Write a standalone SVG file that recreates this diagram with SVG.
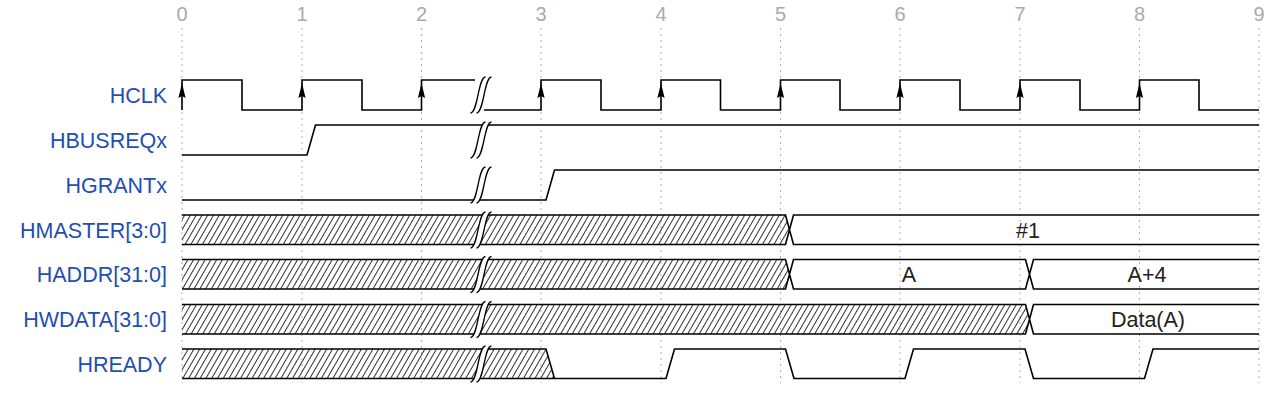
<svg xmlns="http://www.w3.org/2000/svg" width="1284" height="401" viewBox="0 0 1284 401">
<style>
.lbl{font-family:"Liberation Sans",Arial,sans-serif;font-size:21.5px;fill:#1f4eb4;text-anchor:end}
.num{font-family:"Liberation Sans",Arial,sans-serif;font-size:20px;fill:#aaaaaa;text-anchor:middle}
.dat{font-family:"Liberation Sans",Arial,sans-serif;font-size:21.5px;fill:#222;text-anchor:middle}
.grid{stroke:#b0b0b0;stroke-width:1;stroke-dasharray:2 4;fill:none}
.w{fill:none;stroke:#000;stroke-width:1.6;stroke-linejoin:miter}
.hx{fill:url(#hatch);stroke:none}
.gw{fill:#fff;stroke:none}
.gc{fill:none;stroke:#000;stroke-width:1.3}
</style>
<defs>
<pattern id="hatch" patternUnits="userSpaceOnUse" width="5" height="10" patternTransform="rotate(30)">
<line x1="2.5" y1="-1" x2="2.5" y2="11" stroke="#333" stroke-width="1"/>
</pattern>
<g id="gap">
<path class="gw" d="M10.5,-3 L4.5,-3 C-3,-3 -3,33 -10.5,33 L-4.5,33 C3,33 3,-3 10.5,-3 Z"/>
<path class="gc" d="M-10.5,33 C-3,33 -3,-3 4.5,-3"/>
<path class="gc" d="M-4.5,33 C3,33 3,-3 10.5,-3"/>
</g>
<path id="arr" d="M0,83 L3.6,98 L0,96 L-3.6,98 Z" fill="#000"/>
</defs>
<rect width="1284" height="401" fill="#fff"/>
<g id="grid">
<path class="grid" d="M182,28V383M302,28V383M421.5,28V383M541,28V383M661,28V383M780.5,28V383M900,28V383M1020,28V383M1139.5,28V383M1259,28V383"/>
<text class="num" x="182" y="21">0</text>
<text class="num" x="302" y="21">1</text>
<text class="num" x="421.5" y="21">2</text>
<text class="num" x="541" y="21">3</text>
<text class="num" x="661" y="21">4</text>
<text class="num" x="780.5" y="21">5</text>
<text class="num" x="900" y="21">6</text>
<text class="num" x="1020" y="21">7</text>
<text class="num" x="1139.5" y="21">8</text>
<text class="num" x="1259" y="21">9</text>
</g>
<g id="connectors"></g>
<g id="HCLK">
<text class="lbl" x="167" y="103">HCLK</text>
<path class="w" d="M182,110V80H242V110H302V80H362V110H421.5V80H475M484,110H541V80H601V110H661V80H720.5V110H780.5V80H840V110H900V80H960V110H1020V80H1080V110H1139.5V80H1199V110H1259"/>
<use href="#gap" x="481" y="80"/>
<use href="#arr" x="182"/><use href="#arr" x="302"/><use href="#arr" x="421.5"/><use href="#arr" x="541"/><use href="#arr" x="661"/><use href="#arr" x="780.5"/><use href="#arr" x="900"/><use href="#arr" x="1020"/><use href="#arr" x="1139.5"/>
</g>
<g id="HBUSREQx">
<text class="lbl" x="167" y="148">HBUSREQx</text>
<path class="w" d="M182,155H307L315.5,125H1259"/>
<use href="#gap" x="481" y="125"/>
</g>
<g id="HGRANTx">
<text class="lbl" x="167" y="193">HGRANTx</text>
<path class="w" d="M182,200H546L554.5,170H1259"/>
<use href="#gap" x="481" y="170"/>
</g>
<g id="HMASTER">
<text class="lbl" x="167" y="237.5">HMASTER[3:0]</text>
<path class="hx" d="M182,215H785.5L789.5,229.75L785.5,244.5H182Z"/>
<path class="w" d="M182,215H785.5L793.5,244.5H1259M182,244.5H785.5L793.5,215H1259"/>
<use href="#gap" x="481" y="215"/>
<text class="dat" x="1028" y="237.5">#1</text>
</g>
<g id="HADDR">
<text class="lbl" x="167" y="282">HADDR[31:0]</text>
<path class="hx" d="M182,259.5H785.5L789.5,274.25L785.5,289H182Z"/>
<path class="w" d="M182,259.5H785.5L793.5,289H1025.5L1033.5,259.5H1259M182,289H785.5L793.5,259.5H1025.5L1033.5,289H1259"/>
<use href="#gap" x="481" y="259.5"/>
<text class="dat" x="909" y="282">A</text>
<text class="dat" x="1147" y="282">A+4</text>
</g>
<g id="HWDATA">
<text class="lbl" x="167" y="327">HWDATA[31:0]</text>
<path class="hx" d="M182,304.5H1025.5L1029.5,319.25L1025.5,334H182Z"/>
<path class="w" d="M182,304.5H1025.5L1033.5,334H1259M182,334H1025.5L1033.5,304.5H1259"/>
<use href="#gap" x="481" y="304.5"/>
<text class="dat" x="1148" y="327">Data(A)</text>
</g>
<g id="HREADY">
<text class="lbl" x="167" y="371.5">HREADY</text>
<path class="hx" d="M182,349H546L554.5,378.5H182Z"/>
<path class="w" d="M182,378.5H554.5M182,349H546L554.5,378.5H666L674.5,349H785.5L794,378.5H905L913.5,349H1025L1033.5,378.5H1144.5L1153,349H1259"/>
<use href="#gap" x="481" y="349"/>
</g>
</svg>
